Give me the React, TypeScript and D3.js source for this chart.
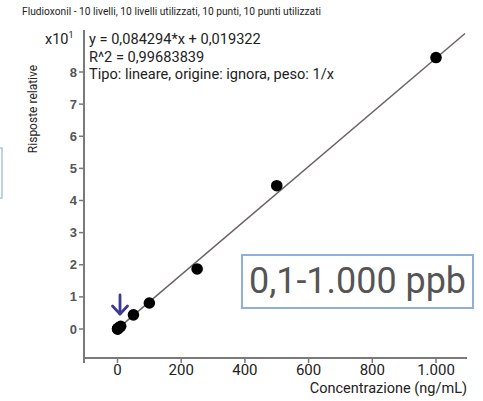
import React from "react";
import * as d3 from "d3";

const concentrations = [0.1, 0.5, 1, 5, 10, 50, 100, 250, 500, 1000];
const responses = [0.0012, 0.005, 0.009, 0.042, 0.085, 0.44, 0.81, 1.87, 4.46, 8.45];
const slope = 0.0084294;
const intercept = 0.0019322;
const yTicks = [0, 1, 2, 3, 4, 5, 6, 7, 8];
const xTicks = [0, 200, 400, 600, 800, 1000];
const xTickLabels = ["0", "200", "400", "600", "800", "1.000"];
const titleText = "Fludioxonil - 10 livelli, 10 livelli utilizzati, 10 punti, 10 punti utilizzati";
const eqLines = [
  "y = 0,084294*x + 0,019322",
  "R^2 = 0,99683839",
  "Tipo: lineare, origine: ignora, peso: 1/x",
];

export default function App() {
  const x = d3.scaleLinear().domain([0, 1000]).range([117.5, 436]);
  const y = d3.scaleLinear().domain([0, 8]).range([329, 72]);
  const xMin = x.invert(84);
  const xMax = x.invert(467);
  const yTop = y.invert(30);
  const yBot = y.invert(358);
  const lineGen = d3
    .line<number>()
    .x((d) => x(d))
    .y((d) => y(slope * d + intercept));
  const fitX = [0, x.invert(465)];

  return (
    <svg
      width={483}
      height={401}
      style={{ position: "absolute", left: 0, top: 0, background: "#fff" }}
    >
      <rect x={0} y={0} width={483} height={401} fill="#fff" />
      {/* partial box at left edge */}
      <rect x={-20} y={148} width={22} height={50} fill="none" stroke="#a9c3e6" strokeWidth={1.5} />
      <text
        x={22}
        y={15}
        fontFamily="Roboto, sans-serif"
        fontSize={11}
        fill="#222"
        textLength={299}
        lengthAdjust="spacingAndGlyphs"
      >
        {titleText}
      </text>
      {/* x10^1 */}
      <text x={45} y={44} fontFamily="Roboto, sans-serif" fontSize={14.5} fill="#222">
        x10
        <tspan fontSize={9} dy={-6}>1</tspan>
      </text>
      {/* axes */}
      <line x1={x(xMin)} x2={x(xMin)} y1={y(yTop)} y2={y(yBot) + 5} stroke="#7a7a7a" strokeWidth={2} />
      <line x1={x(xMin)} x2={x(xMax)} y1={y(yBot)} y2={y(yBot)} stroke="#7a7a7a" strokeWidth={2} />
      {yTicks.map((t) => (
        <g key={"yt" + t}>
          <line x1={x(xMin) - 5} x2={x(xMin)} y1={y(t)} y2={y(t)} stroke="#7a7a7a" strokeWidth={1.5} />
          <text
            x={x(xMin) - 7}
            y={y(t)}
            dy="0.35em"
            textAnchor="end"
            fontFamily="Liberation Sans, Arial, sans-serif"
            fontWeight="bold"
            fontSize={13}
            fill="#555"
          >
            {t}
          </text>
        </g>
      ))}
      {xTicks.map((t, i) => (
        <g key={"xt" + t}>
          <line x1={x(t)} x2={x(t)} y1={y(yBot)} y2={y(yBot) + 5} stroke="#7a7a7a" strokeWidth={1.5} />
          <text
            x={x(t)}
            y={375}
            textAnchor="middle"
            fontFamily="Roboto, sans-serif"
            fontSize={15}
            fill="#222"
          >
            {xTickLabels[i]}
          </text>
        </g>
      ))}
      <text
        x={467}
        y={393}
        textAnchor="end"
        fontFamily="Roboto, sans-serif"
        fontSize={14.5}
        fill="#222"
      >
        Concentrazione (ng/mL)
      </text>
      <text
        transform="translate(37,109) rotate(-90)"
        textAnchor="middle"
        fontFamily="Roboto, sans-serif"
        fontSize={12}
        fill="#222"
      >
        Risposte relative
      </text>
      {/* equation */}
      {eqLines.map((l, i) => (
        <text
          key={"eq" + i}
          x={89}
          y={44 + i * 17.5}
          fontFamily="Roboto, sans-serif"
          fontSize={14.6}
          fill="#222"
        >
          {l}
        </text>
      ))}
      {/* fit line */}
      <path d={lineGen(fitX) || ""} fill="none" stroke="#6b6464" strokeWidth={1.5} />
      {/* points */}
      {concentrations.map((c, i) => (
        <circle key={"p" + i} cx={x(c)} cy={y(responses[i])} r={5.8} fill="#000" />
      ))}
      {/* arrow */}
      <g stroke="#3d3a8f" strokeWidth={2.8} fill="none" strokeLinecap="round" strokeLinejoin="round">
        <line x1={120} x2={120} y1={295} y2={314} />
        <polyline points="112.5,306 120,314 127.5,306" />
      </g>
      {/* range box */}
      <rect x={242} y={255} width={231} height={53} fill="#fff" stroke="#8fb0dc" strokeWidth={2} />
      <text
        x={249}
        y={293}
        fontFamily="Roboto, sans-serif"
        fontSize={36}
        fill="#555"
        textLength={217}
        lengthAdjust="spacingAndGlyphs"
      >
        0,1-1.000 ppb
      </text>
    </svg>
  );
}
